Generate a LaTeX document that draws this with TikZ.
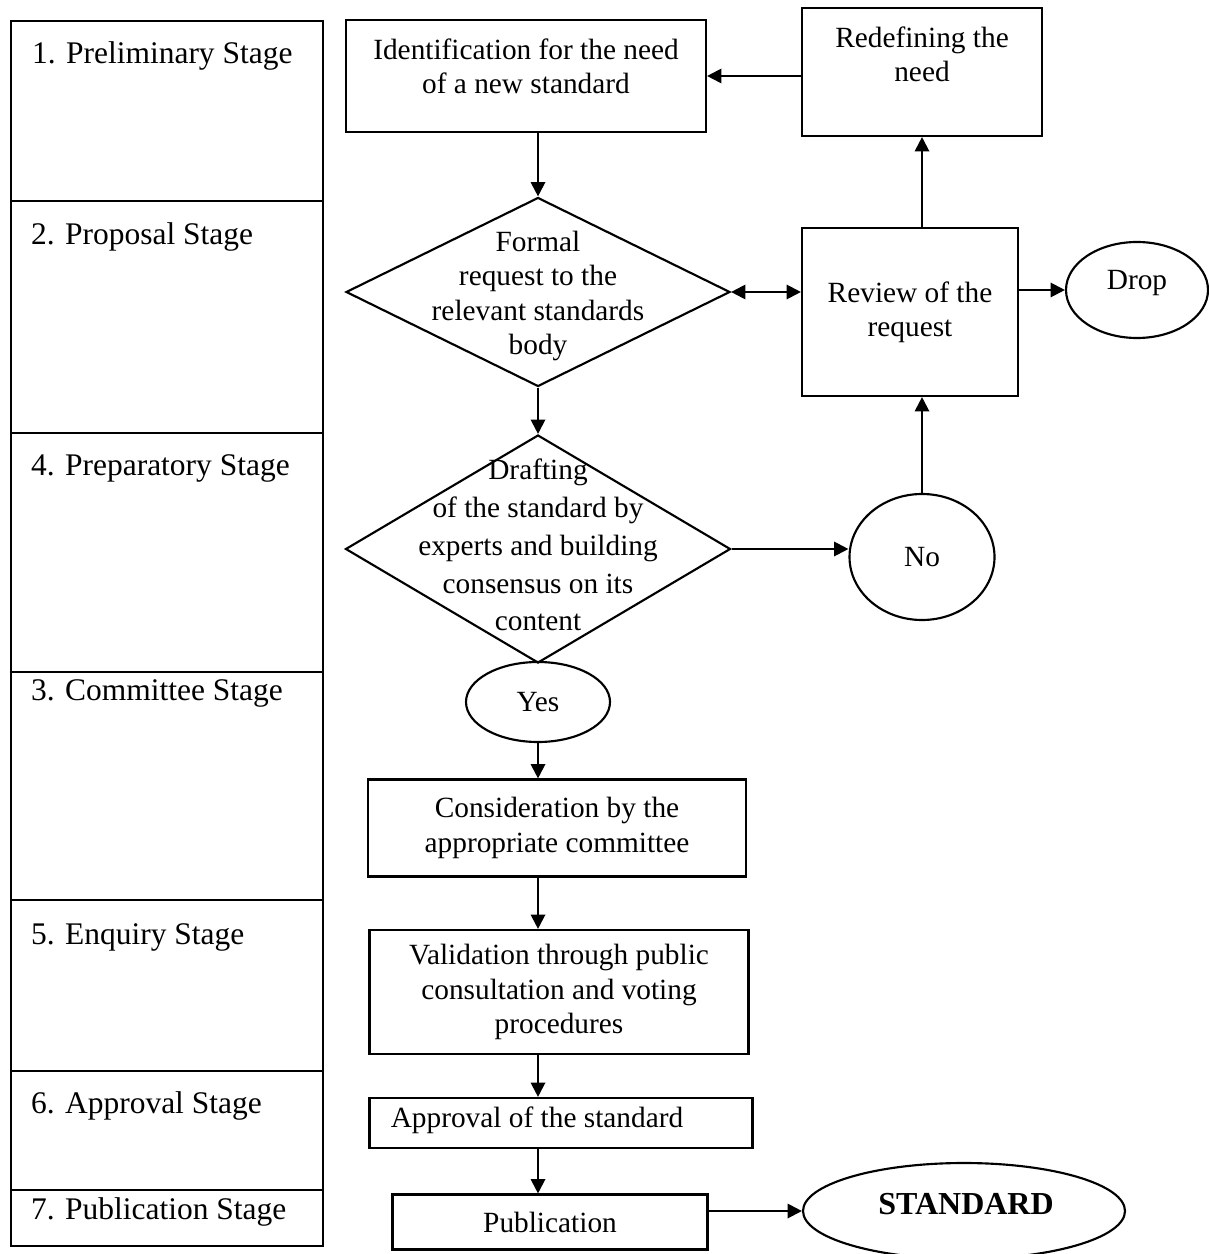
\documentclass[tikz,border=0pt]{standalone}
\usepackage{fontspec}
\setmainfont{Liberation Serif}
\usetikzlibrary{shapes.geometric,arrows.meta}
\begin{document}
\begin{tikzpicture}[x=0.375pt,y=-0.375pt,
  line width=0.8pt,
  every node/.style={font=\fontsize{11}{12.8}\selectfont},
  sz/.style 2 args={minimum width=#1*0.375pt, minimum height=#2*0.375pt},
  boxn/.style={draw,rectangle,inner sep=0pt,align=center},
  stagebox/.style={draw,rectangle,inner sep=0pt,anchor=north west},
  stagetxt/.style={anchor=west,inner sep=0pt,font=\fontsize{11.8}{13}\selectfont},
  dia/.style={draw,diamond,inner sep=0pt},
  oval/.style={draw,ellipse,inner sep=0pt,align=center},
  txt/.style={align=center,inner sep=0pt},
  tip/.tip={Triangle[length=5.4pt,width=5.4pt]},
  arr/.style={-tip},
]
\useasboundingbox (0,0) rectangle (1208,1254);

% stage column
\node[stagebox, sz={312}{180}] (s1) at (10,20) {};
\node[stagebox, sz={312}{232}] (s2) at (10,200) {};
\node[stagebox, sz={312}{239}] (s4) at (10,432) {};
\node[stagebox, sz={312}{228}] (s3) at (10,671) {};
\node[stagebox, sz={312}{171}] (s5) at (10,899) {};
\node[stagebox, sz={312}{119}] (s6) at (10,1070) {};
\node[stagebox, sz={312}{56}] (s7) at (10,1189) {};
\node[stagetxt] (t1) at (31,56) {1. Preliminary Stage};
\node[stagetxt] (t2) at (30,237) {2. Proposal Stage};
\node[stagetxt] (t4) at (30,468) {4. Preparatory Stage};
\node[stagetxt] (t3) at (30,693) {3. Committee Stage};
\node[stagetxt] (t5) at (30,937) {5. Enquiry Stage};
\node[stagetxt] (t6) at (30,1106) {6. Approval Stage};
\node[stagetxt] (t7) at (30,1212) {7. Publication Stage};

% boxes
\node[boxn, sz={360}{112}] (id) at (526,76) {};
\node[txt] (idt) at (526,66) {Identification for the need\\of a new standard};
\node[boxn, sz={240}{128}] (redef) at (922,72) {};
\node[txt] (redeft) at (922,54) {Redefining the\\need};
\node[boxn, sz={216}{168}] (rev) at (910,312) {Review of the\\request};
\node[boxn, sz={378}{97}] (cons) at (557,828) {Consideration by the\\appropriate committee};
\node[boxn, sz={379}{124}] (val) at (559,992) {Validation through public\\consultation and voting\\procedures};
\node[boxn, sz={383}{50}] (appr) at (561,1123) {};
\node[txt] (apprt) at (537,1120) {Approval of the standard};
\node[boxn, sz={315}{55}] (pub) at (550,1222) {Publication};

% diamonds
\node[dia, sz={384}{189}] (d1) at (538,292) {};
\node[txt] (d1t) at (538,296) {Formal\\request to the\\relevant standards\\body};
\node[dia, sz={385}{228}] (d2) at (538,549) {};
\node[txt, font=\fontsize{11}{14.2}\selectfont] (d2t) at (538,545) {Drafting\\of the standard by\\experts and building\\consensus on its\\content};

% ellipses
\node[oval, sz={142}{96}] (drop) at (1137,290) {};
\node[txt] (dropt) at (1137,283) {Drop};
\node[oval, sz={145}{126}] (no) at (922,557) {No};
\node[oval, sz={144}{80}] (yes) at (538,702) {Yes};
\node[oval, sz={322}{96}] (std) at (964,1211) {};
\node[txt, font=\fontsize{12}{13}\selectfont\bfseries] (stdt) at (966,1204) {STANDARD};

% connectors
\draw[arr] (redef.west |- id.east) -- (id.east);
\draw[arr] (rev.north -| redef.south) -- (redef.south);
\draw[arr] (rev.east |- drop.west) -- (drop.west);
\draw[tip-tip] (d1.east) -- (d1.east -| rev.west);
\draw[arr] (no.north) -- (no.north |- rev.south);
\draw[arr] (id.south -| d1.north) -- (d1.north);
\draw[arr] (d1.south) -- (d2.north);
\draw[arr] (d2.east) -- (d2.east -| no.west);
\draw[arr] (yes.south) -- (yes.south |- cons.north);
\draw[arr] (d1.south |- cons.south) -- (d1.south |- val.north);
\draw[arr] (d1.south |- val.south) -- (d1.south |- appr.north);
\draw[arr] (d1.south |- appr.south) -- (d1.south |- pub.north);
\draw[arr] (pub.east |- std.west) -- (std.west);
\end{tikzpicture}
\end{document}
